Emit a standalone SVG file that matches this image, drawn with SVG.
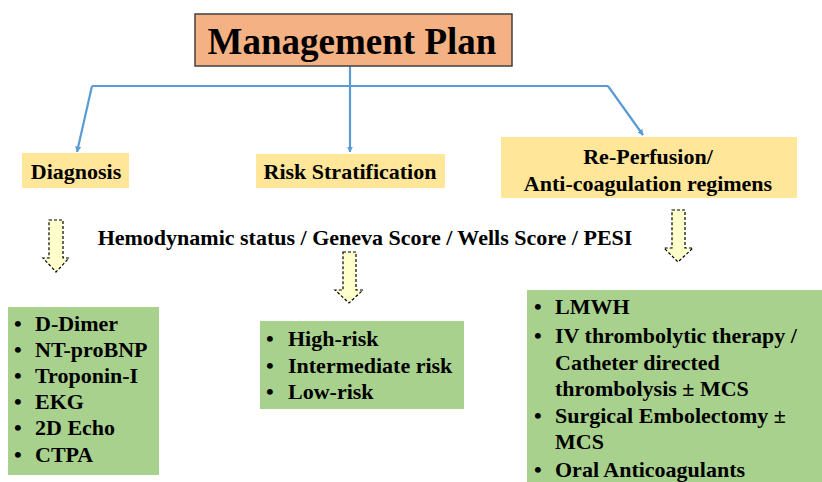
<svg xmlns="http://www.w3.org/2000/svg" width="822" height="482" viewBox="0 0 822 482">
<style>
text{font-family:"Liberation Serif","Times New Roman",serif;font-weight:bold;fill:#000}
.lbl{font-size:22px}
.item{font-size:22px}
.yb{fill:#ffe699}
.gb{fill:#a9d18e}
.conn{stroke:#5b9bd5;stroke-width:2.2;fill:none}
.harrow{fill:#ffffcc;stroke:#000;stroke-width:1.2;stroke-dasharray:3 2}
</style>
<defs>
<marker id="ah" viewBox="0 0 10 10" refX="9" refY="5" markerWidth="6" markerHeight="6" orient="auto" markerUnits="userSpaceOnUse">
<path d="M0,0 L10,5 L0,10 z" fill="#5b9bd5"/>
</marker>
</defs>
<rect width="822" height="482" fill="#fff"/>
<g id="connectors">
<path class="conn" d="M350,66 V86"/>
<path class="conn" d="M92,86 H608"/>
<path class="conn" d="M92,86 L77,152" marker-end="url(#ah)"/>
<path class="conn" d="M350,86 V152" marker-end="url(#ah)"/>
<path class="conn" d="M608,86 L643,135" marker-end="url(#ah)"/>
</g>
<g id="title">
<rect x="195" y="14" width="317" height="52" fill="#f4b183" stroke="#404040" stroke-width="1.5"/>
<text x="352" y="54" font-size="37" text-anchor="middle">Management Plan</text>
</g>
<g id="diagnosis">
<rect class="yb" x="22" y="153" width="107" height="35"/>
<text class="lbl" x="76" y="179" text-anchor="middle">Diagnosis</text>
</g>
<g id="risk">
<rect class="yb" x="256" y="154" width="189" height="34"/>
<text class="lbl" x="350" y="179" text-anchor="middle">Risk Stratification</text>
</g>
<g id="reperfusion">
<rect class="yb" x="501" y="137" width="296" height="61"/>
<text class="lbl" x="648" y="164" text-anchor="middle">Re-Perfusion/</text>
<text class="lbl" x="648" y="191" text-anchor="middle">Anti-coagulation regimens</text>
</g>
<g id="scores">
<text class="lbl" x="365" y="245" text-anchor="middle">Hemodynamic status / Geneva Score / Wells Score / PESI</text>
</g>
<g id="arrow-left">
<path class="harrow" d="M49,220 H63 V258 H69 L56,272 L43,258 H49 Z"/>
</g>
<g id="arrow-mid">
<path class="harrow" d="M343,252 H356 V290 H363 L349,303 L335,290 H343 Z"/>
</g>
<g id="arrow-right">
<path class="harrow" d="M672,210 H685 V248 H693 L678,262 L664,248 H672 Z"/>
</g>
<g id="diag-list">
<rect class="gb" x="8" y="307" width="151" height="168"/>
<text class="item"><tspan x="14" y="331">•</tspan><tspan x="35" y="331">D-Dimer</tspan></text>
<text class="item"><tspan x="14" y="357">•</tspan><tspan x="35" y="357">NT-proBNP</tspan></text>
<text class="item"><tspan x="14" y="383">•</tspan><tspan x="35" y="383">Troponin-I</tspan></text>
<text class="item"><tspan x="14" y="409">•</tspan><tspan x="35" y="409">EKG</tspan></text>
<text class="item"><tspan x="14" y="435">•</tspan><tspan x="35" y="435">2D Echo</tspan></text>
<text class="item"><tspan x="14" y="462">•</tspan><tspan x="35" y="462">CTPA</tspan></text>
</g>
<g id="risk-list">
<rect class="gb" x="260" y="321" width="204" height="88"/>
<text class="item"><tspan x="266" y="346">•</tspan><tspan x="288" y="346">High-risk</tspan></text>
<text class="item"><tspan x="266" y="373">•</tspan><tspan x="288" y="373">Intermediate risk</tspan></text>
<text class="item"><tspan x="266" y="399">•</tspan><tspan x="288" y="399">Low-risk</tspan></text>
</g>
<g id="reperf-list">
<rect class="gb" x="527" y="290" width="295" height="192"/>
<text class="item"><tspan x="534" y="314">•</tspan><tspan x="555" y="314">LMWH</tspan></text>
<text class="item"><tspan x="534" y="343">•</tspan><tspan x="555" y="343">IV thrombolytic therapy /</tspan></text>
<text class="item"><tspan x="555" y="370">Catheter directed</tspan></text>
<text class="item"><tspan x="555" y="396">thrombolysis ± MCS</tspan></text>
<text class="item"><tspan x="534" y="423">•</tspan><tspan x="555" y="423">Surgical Embolectomy ±</tspan></text>
<text class="item"><tspan x="555" y="449">MCS</tspan></text>
<text class="item"><tspan x="534" y="477">•</tspan><tspan x="555" y="477">Oral Anticoagulants</tspan></text>
</g>
</svg>
